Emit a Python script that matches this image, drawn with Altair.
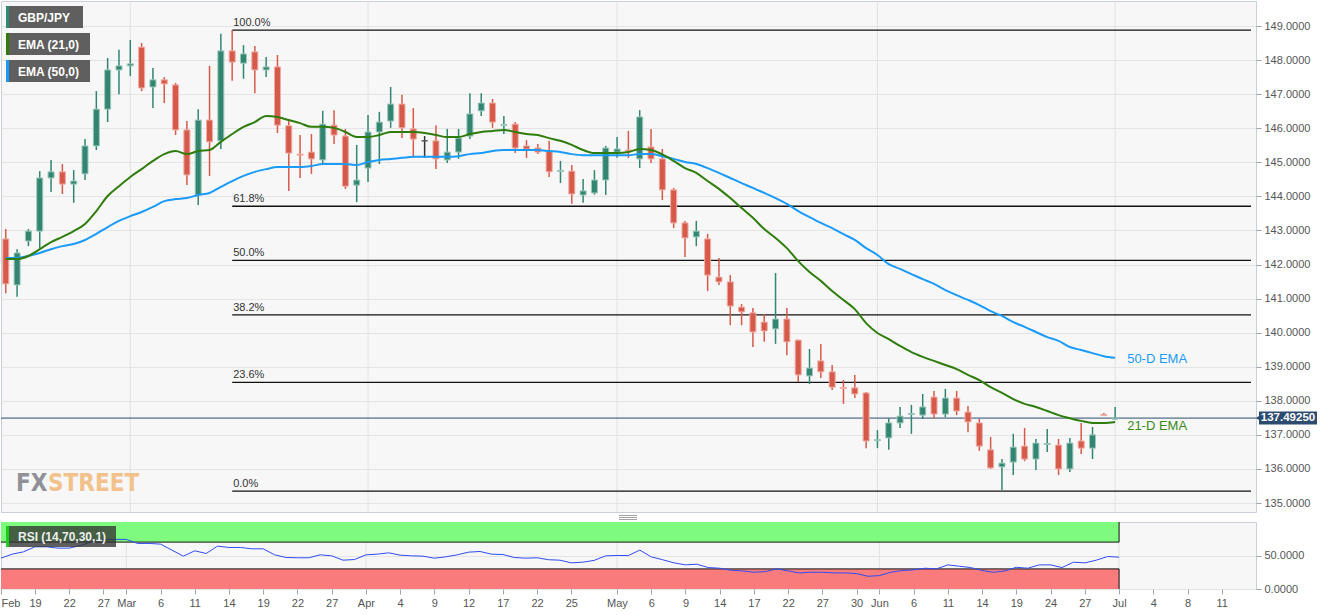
import altair as alt
import pandas as pd

# ---------------- data ----------------
# bar index: -1 = Feb 14 2019 ... 97 = Jul 1 2019 (trading days, Jun 30 Sunday bar = 96)
idx = list(range(-1, 98))

opn = [142.75,
       141.40, 142.69, 142.98, 144.54, 144.72, 144.36, 144.66, 145.48, 146.56, 147.71,
       147.83, 148.38, 147.21, 147.42, 147.27, 145.95, 144.04, 146.24, 145.63, 148.27,
       147.91, 148.24, 147.71, 147.80, 146.07, 145.24, 145.30, 145.07, 146.09, 145.77,
       144.33, 144.83, 145.89, 146.21, 146.71, 145.98, 145.63, 145.63, 145.07, 145.30,
       145.77, 146.51, 146.74, 146.08, 146.12, 145.48, 145.42, 145.33, 144.73, 144.74,
       144.04, 144.10, 144.48, 145.30, 145.36, 145.10, 145.45, 145.10, 144.19, 143.22,
       142.81, 142.75, 141.63, 141.49, 140.75, 140.58, 140.31, 140.11, 140.40, 139.78,
       138.73, 139.17, 138.85, 138.39, 138.38, 138.23, 136.83, 136.91, 137.35, 137.60,
       137.58, 138.11, 137.61, 138.08, 137.67, 137.35, 136.56, 136.06, 136.20, 136.67,
       136.29, 136.72, 136.70, 136.00, 136.82, 136.61, 137.60, 137.46]
high = [143.04,
        142.45, 143.04, 144.74, 145.07, 144.95, 144.77, 145.68, 147.09, 148.06, 148.30,
        148.59, 148.50, 147.77, 147.50, 147.33, 146.21, 146.56, 147.83, 148.77, 148.88,
        148.44, 148.41, 148.09, 148.15, 146.21, 145.80, 145.83, 146.51, 146.53, 145.98,
        145.51, 146.39, 146.48, 147.21, 146.98, 146.59, 145.77, 146.09, 145.98, 145.98,
        147.03, 147.03, 146.86, 146.36, 146.18, 145.65, 145.54, 145.63, 145.04, 144.92,
        144.51, 144.77, 145.48, 145.74, 145.92, 146.53, 145.98, 145.39, 144.25, 143.28,
        143.28, 142.90, 142.19, 141.69, 140.84, 140.72, 140.55, 141.75, 140.72, 139.80,
        139.52, 139.67, 139.05, 138.61, 138.76, 138.26, 137.14, 137.49, 137.82, 137.88,
        138.20, 138.29, 138.35, 138.29, 137.85, 137.47, 136.94, 136.29, 137.03, 137.20,
        136.88, 137.17, 136.88, 136.91, 137.35, 137.23, 137.64, 137.82]
low = [141.16,
       141.05, 142.54, 142.48, 144.13, 144.07, 143.81, 144.48, 145.36, 146.18, 147.00,
       147.53, 147.09, 146.59, 146.74, 145.80, 144.33, 143.75, 144.60, 145.39, 147.39,
       147.45, 147.03, 147.50, 145.86, 144.16, 144.54, 144.66, 144.98, 145.54, 144.22,
       143.83, 144.42, 144.95, 146.01, 145.71, 145.16, 145.13, 144.80, 144.98, 145.10,
       145.68, 146.36, 146.01, 145.83, 145.27, 145.13, 145.24, 144.57, 144.39, 143.78,
       143.81, 144.05, 144.04, 145.13, 145.13, 144.83, 144.98, 143.89, 143.07, 142.22,
       142.54, 141.22, 141.40, 140.22, 140.22, 139.58, 139.73, 139.67, 139.34, 138.55,
       138.49, 138.67, 138.32, 137.91, 138.08, 136.61, 136.61, 136.56, 137.20, 137.03,
       137.47, 137.49, 137.52, 137.58, 137.08, 136.53, 136.00, 135.38, 135.82, 136.23,
       135.97, 136.50, 135.82, 135.91, 136.44, 136.29, 137.55, 137.44]
cls = [141.43,
       142.34, 142.98, 144.54, 144.72, 144.36, 144.45, 145.48, 146.56, 147.71, 147.83,
       147.89, 147.18, 147.42, 147.30, 145.95, 144.63, 146.24, 145.60, 148.27, 147.94,
       148.18, 147.71, 147.80, 146.09, 145.27, 145.21, 145.10, 146.12, 145.80, 144.30,
       144.48, 145.89, 146.18, 146.71, 146.01, 145.68, 145.63, 145.10, 145.30, 145.71,
       146.42, 146.74, 146.18, 146.11, 145.42, 145.39, 145.30, 144.72, 144.76, 144.07,
       144.16, 144.48, 145.42, 145.39, 145.33, 146.33, 145.10, 144.19, 143.22, 142.78,
       142.98, 141.69, 141.49, 140.78, 140.61, 140.02, 140.05, 140.40, 139.73, 138.76,
       138.96, 138.85, 138.40, 138.36, 138.20, 136.82, 136.86, 137.35, 137.55, 137.63,
       137.82, 137.61, 138.08, 137.70, 137.38, 136.67, 136.03, 136.17, 136.64, 136.29,
       136.76, 136.75, 136.00, 136.76, 136.61, 137.00, 137.57, 137.4925]
ema21 = [142.16,
         142.16, 142.25, 142.45, 142.66, 142.81, 142.98, 143.19, 143.57, 144.01, 144.30,
         144.57, 144.80, 145.04, 145.24, 145.33, 145.24, 145.33, 145.36, 145.60, 145.83,
         146.04, 146.18, 146.36, 146.33, 146.24, 146.15, 146.04, 146.04, 146.01, 145.89,
         145.74, 145.74, 145.80, 145.89, 145.89, 145.89, 145.86, 145.80, 145.74, 145.74,
         145.83, 145.89, 145.92, 145.95, 145.89, 145.83, 145.80, 145.71, 145.63, 145.51,
         145.36, 145.27, 145.27, 145.27, 145.30, 145.39, 145.36, 145.23, 145.04, 144.83,
         144.69, 144.45, 144.22, 143.95, 143.66, 143.37, 143.04, 142.78, 142.48, 142.10,
         141.78, 141.52, 141.22, 140.96, 140.69, 140.28, 139.99, 139.81, 139.61, 139.43,
         139.29, 139.17, 139.05, 138.93, 138.76, 138.61, 138.40, 138.23, 138.05, 137.91,
         137.82, 137.70, 137.58, 137.49, 137.41, 137.35, 137.35, 137.38]
ema50 = [142.19,
         142.19, 142.25, 142.34, 142.45, 142.54, 142.60, 142.72, 142.90, 143.10, 143.28,
         143.42, 143.54, 143.69, 143.86, 143.92, 143.95, 144.04, 144.10, 144.28, 144.45,
         144.60, 144.72, 144.80, 144.86, 144.86, 144.86, 144.89, 144.95, 144.95, 144.95,
         144.92, 145.01, 145.07, 145.10, 145.13, 145.16, 145.16, 145.16, 145.16, 145.18,
         145.24, 145.27, 145.33, 145.36, 145.36, 145.36, 145.36, 145.33, 145.30, 145.24,
         145.21, 145.21, 145.21, 145.21, 145.21, 145.24, 145.24, 145.18, 145.10, 145.01,
         144.95, 144.83, 144.69, 144.54, 144.39, 144.25, 144.10, 143.95, 143.78, 143.57,
         143.39, 143.22, 143.07, 142.89, 142.72, 142.48, 142.28, 142.01, 141.87, 141.72,
         141.57, 141.43, 141.25, 141.10, 140.96, 140.81, 140.63, 140.49, 140.31, 140.17,
         140.02, 139.87, 139.76, 139.58, 139.49, 139.40, 139.31, 139.26]
rsi = [46,
       52, 55.5, 63, 63, 61, 61, 65, 70.5, 74, 74,
       74, 68, 68, 67, 58, 49, 57, 53, 64, 62,
       62, 60, 60, 51, 47, 46.6, 46.6, 51, 49.5, 43,
       44, 51, 52, 54, 50.5, 49.5, 49, 46, 48, 51,
       55, 56, 52, 51.5, 47, 46, 46.6, 43.7, 43, 39,
       40, 42.7, 49.5, 50, 50, 58, 48, 43.7, 39, 36,
       37, 32, 31, 28, 27, 25, 26, 30, 27, 24,
       25, 25, 24, 24, 23, 19, 20, 25, 27.6, 28.5,
       31, 30, 36, 34, 32, 27.6, 25, 27, 32.4, 31,
       36, 36, 32, 40, 39, 43, 48.5, 47.5]

tick_idx = [-0.98, 2, 5, 8, 10, 13, 16, 19, 22, 25, 28, 31, 34, 37, 40, 43, 46, 49,
            53, 56, 59, 62, 65, 68, 71, 74, 76, 79, 82, 85, 88, 91, 94, 97, 100, 103, 106]
tick_lbl = ["Feb", "19", "22", "27", "Mar", "6", "11", "14", "19", "22", "27",
            "Apr", "4", "9", "12", "17", "22", "25", "May", "6", "9", "14", "17", "22",
            "27", "30", "Jun", "6", "11", "14", "19", "24", "27", "Jul", "4", "8", "11"]
month_idx = [10, 31, 53, 76, 97]
fib_lvls = [148.88, 143.71, 142.12, 140.52, 138.54, 135.35]
fib_lbls = ["100.0%", "61.8%", "50.0%", "38.2%", "23.6%", "0.0%"]
fib_start = 19
last_price = 137.4925
ob_band = [70, 100]
os_band = [0, 30]

# ---------------- styling / layout ----------------
FONT = "Liberation Sans"
GREEN = "#338571"
RED = "#D65A4A"
X_MIN, X_MAX = -0.98, 109.0
Y_MIN, Y_MAX = 134.736, 149.734
W, H_MAIN, H_RSI = 1255, 511, 67

xs = alt.Scale(domain=[X_MIN, X_MAX], nice=False, zero=False)
ys = alt.Scale(domain=[Y_MIN, Y_MAX], nice=False, zero=False)
ax_y = alt.Axis(orient="right", values=list(range(135, 150)), format=".4f", title=None,
                grid=True, gridColor="#E4E4E4", domain=False, tickColor="#9AA0AE",
                tickSize=5, labelColor="#555555", labelFont=FONT, labelFontSize=11,
                labelPadding=3)


def MX(f):
    return alt.X(f, type="quantitative", scale=xs, axis=None, title=None)


def MY(f):
    return alt.Y(f, type="quantitative", scale=ys, axis=ax_y, title=None)


candles = pd.DataFrame({"i": idx, "o": opn, "h": high, "l": low, "c": cls})
emas = pd.DataFrame({"i": idx, "e21": ema21, "e50": ema50})
fib = pd.DataFrame({"lvl": fib_lvls, "lbl": fib_lbls, "x0": fib_start, "x1": X_MAX})
months = pd.DataFrame({"i": month_idx})
lastp = pd.DataFrame({"p": [last_price]})

dir_expr = "datum.c > datum.o ? 'up' : (datum.c < datum.o ? 'down' : 'flat')"
col_scale = alt.Scale(domain=["up", "down", "flat"], range=[GREEN, RED, "#333333"])
stroke_scale = alt.Scale(domain=["up", "down", "flat"], range=["#9CC9BC", "#F0ACA4", "#555555"])

mgrid = alt.Chart(months).mark_rule(color="#E2E2E2", strokeWidth=1).encode(x=MX("i"))

fib_rule = alt.Chart(fib).mark_rule(color="#111111", strokeWidth=1.3).encode(
    x=MX("x0"), x2="x1", y=MY("lvl"))
fib_txt = alt.Chart(fib).mark_text(align="left", baseline="bottom", dx=1, dy=-2, font=FONT,
                                   fontSize=11, color="#333333").encode(
    x=MX("x0"), y=MY("lvl"), text="lbl:N")

last_rule = alt.Chart(lastp).mark_rule(color="#2D4B6E", strokeWidth=1).encode(y=MY("p"))

wicks = alt.Chart(candles).transform_calculate(dir=dir_expr).mark_rule(
    strokeWidth=1.5, clip=True).encode(
    x=MX("i"), y=MY("l"), y2="h",
    color=alt.Color("dir:N", scale=col_scale, legend=None))
bodies = alt.Chart(candles).transform_calculate(dir=dir_expr).mark_bar(
    size=6, strokeWidth=1, clip=True).encode(
    x=MX("i"), y=MY("o"), y2="c",
    color=alt.Color("dir:N", scale=col_scale, legend=None),
    stroke=alt.Stroke("dir:N", scale=stroke_scale, legend=None))

e21_line = alt.Chart(emas).mark_line(color="#2E7D0C", strokeWidth=2, interpolate="monotone",
                                     clip=True).encode(x=MX("i"), y=MY("e21"))
e50_line = alt.Chart(emas).mark_line(color="#1A9BFA", strokeWidth=2, interpolate="monotone",
                                     clip=True).encode(x=MX("i"), y=MY("e50"))

end_df = pd.DataFrame({"i": [idx[-1]], "e21": [ema21[-1]], "e50": [ema50[-1]]})
lab50 = alt.Chart(end_df).mark_text(text="50-D EMA", align="left", baseline="middle", dx=12, dy=1,
                                     font=FONT, fontSize=13, color="#1A9BFA").encode(
    x=MX("i"), y=MY("e50"))
lab21 = alt.Chart(end_df).mark_text(text="21-D EMA", align="left", baseline="middle", dx=12, dy=4,
                                     font=FONT, fontSize=13, color="#3A8A1A").encode(
    x=MX("i"), y=MY("e21"))

tag_rect = alt.Chart(lastp).transform_calculate(top="datum.p + 0.19", bot="datum.p - 0.19").mark_rect(
    color="#2D4B6E").encode(x=alt.value(1258), x2=alt.value(1316), y=MY("top:Q"), y2="bot:Q")
tag_arrow = alt.Chart(lastp).mark_point(shape="triangle-left", filled=True, size=30, color="#2D4B6E",
                                        opacity=1).encode(x=alt.value(1257), y=MY("p"))
tag_txt = alt.Chart(lastp).mark_text(align="center", baseline="middle", font=FONT, fontSize=11.5,
                                     fontWeight="bold", color="white").encode(
    x=alt.value(1287), y=MY("p"), text=alt.Text("p:Q", format=".5f"))

one = pd.DataFrame({"k": [0]})
legend_layers = []
for (lbl, stripe, y0, y1, x1) in [("GBP/JPY", "#2E8B74", 5, 27, 82),
                                  ("EMA (21,0)", "#2E7D0C", 32, 54, 89),
                                  ("EMA (50,0)", "#1A9BFA", 59, 81, 89)]:
    legend_layers.append(alt.Chart(one).mark_rect(color="#5F5F5F").encode(
        x=alt.value(5), x2=alt.value(x1), y=alt.value(y0), y2=alt.value(y1)))
    legend_layers.append(alt.Chart(one).mark_rect(color=stripe).encode(
        x=alt.value(5), x2=alt.value(8), y=alt.value(y0), y2=alt.value(y1)))
    legend_layers.append(alt.Chart(one).mark_text(text=lbl, align="left", baseline="middle", font=FONT,
                                                  fontSize=12, fontWeight="bold", color="white").encode(
        x=alt.value(17), y=alt.value((y0 + y1) / 2 + 0.5)))

LOGO_FONT = "DejaVu Sans Condensed, sans-serif"
logo1 = alt.Chart(one).mark_text(text="FX", align="left", baseline="alphabetic", font=LOGO_FONT,
                                 fontSize=24, fontWeight="bold", color="#8F9197").encode(
    x=alt.value(15), y=alt.value(490))
logo2 = alt.Chart(one).mark_text(text="STREET", align="left", baseline="alphabetic", font=LOGO_FONT,
                                 fontSize=24, fontWeight="bold", color="#F3C28C").encode(
    x=alt.value(47), y=alt.value(490))

main = alt.layer(mgrid, logo1, logo2, fib_rule, last_rule, wicks, bodies, e50_line, e21_line,
                 fib_txt, lab50, lab21, tag_rect, tag_arrow, tag_txt, *legend_layers).properties(
    width=W, height=H_MAIN)

# ---------------- RSI panel ----------------
rys = alt.Scale(domain=[0, 100], nice=False, zero=False)
ax_ry = alt.Axis(orient="right", values=[0, 50], format=".4f", title=None, grid=True,
                 gridColor="#E4E4E4", domain=False, tickColor="#9AA0AE", tickSize=5,
                 labelColor="#555555", labelFont=FONT, labelFontSize=11, labelPadding=3)

lbl_arr = "[" + ",".join("'" + s + "'" for s in tick_lbl) + "]"
val_arr = "[" + ",".join(repr(v) for v in tick_idx) + "]"
ax_x = alt.Axis(values=tick_idx, labelExpr=f"{lbl_arr}[indexof({val_arr}, datum.value)]",
                title=None, grid=False, domain=False, tickColor="#A0A4B0", tickSize=5,
                labelColor="#555555", labelFont=FONT, labelFontSize=11, labelPadding=3,
                labelFlush=True, labelOverlap=False)


def RX(f):
    return alt.X(f, type="quantitative", scale=xs, axis=ax_x, title=None)


def RY(f):
    return alt.Y(f, type="quantitative", scale=rys, axis=ax_ry, title=None)


ob_df = pd.DataFrame({"x0": [X_MIN], "x1": [idx[-1]], "lo": [ob_band[0]], "hi": [ob_band[1]]})
os_df = pd.DataFrame({"x0": [X_MIN], "x1": [idx[-1]], "lo": [os_band[0]], "hi": [os_band[1]]})
band_lines = pd.DataFrame({"x0": [X_MIN, X_MIN], "x1": [idx[-1], idx[-1]],
                           "v": [ob_band[0], os_band[1]]})
rsi_df = pd.DataFrame({"i": idx, "rsi": rsi})

r_ob = alt.Chart(ob_df).mark_rect(color="#7EFB7E").encode(x=RX("x0"), x2="x1", y=RY("lo"), y2="hi")
r_os = alt.Chart(os_df).mark_rect(color="#F97B7B").encode(x=RX("x0"), x2="x1", y=RY("lo"), y2="hi")
r_mgrid = alt.Chart(months).mark_rule(color="#E2E2E2", strokeWidth=1).encode(x=RX("i"))
r_hlines = alt.Chart(band_lines).mark_rule(color="#111111", strokeWidth=1).encode(
    x=RX("x0"), x2="x1", y=RY("v"))
r_vl1 = alt.Chart(ob_df).mark_rule(color="#111111", strokeWidth=1).encode(
    x=RX("x1"), y=RY("lo"), y2="hi")
r_vl2 = alt.Chart(os_df).mark_rule(color="#111111", strokeWidth=1).encode(
    x=RX("x1"), y=RY("lo"), y2="hi")
r_line = alt.Chart(rsi_df).mark_line(color="#2F4CF5", strokeWidth=1, clip=True).encode(
    x=RX("i"), y=RY("rsi"))

r_leg = [
    alt.Chart(one).mark_rect(color="#333333", opacity=0.78).encode(
        x=alt.value(5), x2=alt.value(115), y=alt.value(4), y2=alt.value(25)),
    alt.Chart(one).mark_rect(color="#19D019").encode(
        x=alt.value(5), x2=alt.value(8), y=alt.value(4), y2=alt.value(25)),
    alt.Chart(one).mark_text(text="RSI (14,70,30,1)", align="left", baseline="middle", font=FONT,
                             fontSize=12, fontWeight="bold", color="#EEEEEE").encode(
        x=alt.value(17), y=alt.value(15)),
]
handle = [alt.Chart(one).mark_rule(color="#8A8A8A", strokeWidth=0.8).encode(
    x=alt.value(618), x2=alt.value(636), y=alt.value(yy)) for yy in (-6.5, -4.5, -2.5)]

rsi_panel = alt.layer(r_mgrid, r_ob, r_os, r_hlines, r_vl1, r_vl2, r_line, *r_leg, *handle).properties(
    width=W, height=H_RSI)

chart = alt.vconcat(main, rsi_panel, spacing=10, bounds="flush").properties(
    padding=0, background="white"
).configure_view(fill="#F7F7F7", stroke="#C9CEDB", strokeWidth=1)

chart.save("out.html", embed_options={"renderer": "svg", "actions": False})
